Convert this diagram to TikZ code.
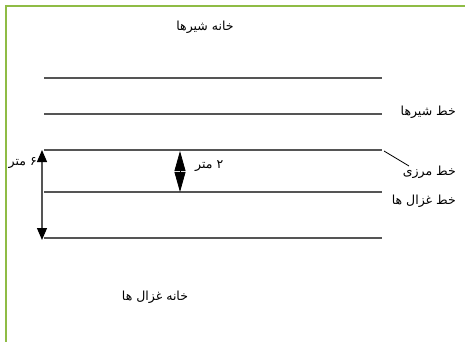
\documentclass[tikz,border=0pt]{standalone}
\usepackage{fontspec}
\usetikzlibrary{arrows.meta}
\newfontfamily\arabicfont[Script=Arabic]{DejaVu Sans}
\TeXXeTstate=1
\definecolor{frame}{HTML}{8FBC45}
\definecolor{lin}{HTML}{555555}
\tikzset{
  hline/.style={draw=lin, line width=1.2pt},
  lbl/.style={inner sep=0pt, font=\arabicfont\fontsize{12.5}{14}\selectfont},
  dimarrow/.style={draw=lin, line width=1.2pt, {Triangle[length=12pt,width=10pt,color=black]}-{Triangle[length=12pt,width=10pt,color=black]}},
  midarrow/.style={draw=black, line width=0.8pt, {Triangle[length=20pt,width=11pt]}-{Triangle[length=20pt,width=11pt]}}
}
\begin{document}
\begin{tikzpicture}[x=1pt,y=-1pt]
\useasboundingbox (0,0) rectangle (465,342);
\fill[white] (0,0) rectangle (465,342);
% frame
\draw[frame, line width=1.6pt] (6,342) -- (6,6) -- (465,6);
% lines
\coordinate (l1a) at (44,78);  \coordinate (l1b) at (382,78);
\coordinate (l2a) at (44,114); \coordinate (l2b) at (382,114);
\coordinate (l3a) at (44,150); \coordinate (l3b) at (382,150);
\coordinate (l4a) at (44,192); \coordinate (l4b) at (382,192);
\coordinate (l5a) at (44,238); \coordinate (l5b) at (382,238);
\draw[hline] (l1a) -- (l1b);
\draw[hline] (l2a) -- (l2b);
\draw[hline] (l3a) -- (l3b);
\draw[hline] (l4a) -- (l4b);
\draw[hline] (l5a) -- (l5b);
% dimension arrows
\coordinate (d6t) at (42,150); \coordinate (d6b) at (42,240);
\draw[dimarrow] (d6t) -- (d6b);
\coordinate (d2t) at (180,151); \coordinate (d2b) at (180,192);
\draw[midarrow] (d2t) -- (d2b);
% labels
\node[lbl] (t1) at (205,27) {\beginR خانه شیرها\endR};
\node[lbl] (t2) at (155,297) {\beginR خانه غزال ها\endR};
\node[lbl, anchor=east] (t6) at (37,163) {\beginR ۶ متر\endR};
\node[lbl, anchor=west] (t2m) at (195,166) {\beginR ۲ متر\endR};
\node[lbl, anchor=east] (tsh) at (456,112) {\beginR خط شیرها\endR};
\node[lbl, anchor=east] (tmz) at (456,172) {\beginR خط مرزی\endR};
\node[lbl, anchor=east] (tgz) at (456,201) {\beginR خط غزال ها\endR};
\coordinate (pa) at (384,151); \coordinate (pb) at (409,166);
\draw[black, line width=0.8pt] (pa) -- (pb);
\end{tikzpicture}
\end{document}
